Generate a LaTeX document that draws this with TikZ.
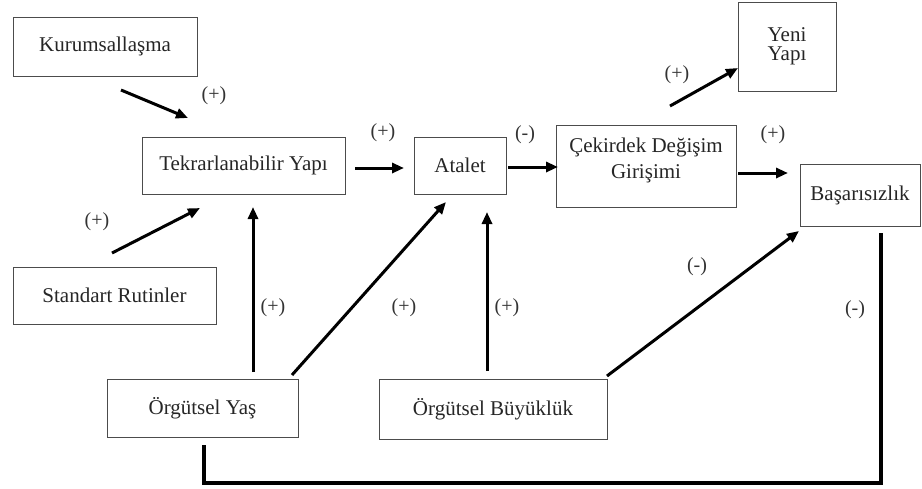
\documentclass[tikz,border=0pt]{standalone}
\usepackage{fontspec}
\setmainfont{Liberation Serif}
\usetikzlibrary{arrows.meta}
\begin{document}
\begin{tikzpicture}[x=1pt,y=-1pt,
  box/.style={draw=black!70,line width=1pt,fill=white,inner sep=0pt,align=center,
    font=\fontsize{21}{26}\selectfont,text=black!85},
  conn/.style={line width=3pt,-{Triangle[length=12pt,width=10pt]}},
  loopline/.style={line width=3.5pt},
  sign/.style={font=\fontsize{20}{22}\selectfont,text=black!80,inner sep=0pt}]
\useasboundingbox (0,0) rectangle (922,488);
% boxes
\node[box,minimum width=184pt,minimum height=59pt] (kur) at (105,46.5) {Kurumsallaşma};
\node[box,minimum width=203pt,minimum height=57pt] (tek) at (243.5,165.5) {Tekrarlanabilir Yapı};
\node[box,minimum width=92pt,minimum height=57pt] (ata) at (460,165.5) {Atalet};
\node[box,minimum width=180pt,minimum height=82pt,text depth=16pt] (cek) at (646,166) {Çekirdek Değişim\\Girişimi};
\node[box,minimum width=98pt,minimum height=89pt,font=\fontsize{21}{19}\selectfont] (yeni) at (787,46.5) {Yeni\\Yapı};
\node[box,minimum width=120pt,minimum height=62pt] (bas) at (860,195) {Başarısızlık};
\node[box,minimum width=203pt,minimum height=57pt] (std) at (114.5,295.5) {Standart Rutinler};
\node[box,minimum width=191pt,minimum height=58pt] (yas) at (202.5,408) {Örgütsel Yaş};
\node[box,minimum width=228pt,minimum height=60pt] (buy) at (493,409) {Örgütsel Büyüklük};
% connector end points
\coordinate (k1) at (121,90);  \coordinate (k2) at (188,118);
\coordinate (s1) at (112,253); \coordinate (s2) at (200,208);
\coordinate (t1) at (355,168); \coordinate (t2) at (404,168);
\coordinate (y1) at (253,372); \coordinate (y2) at (253,207);
\coordinate (y3) at (292,375); \coordinate (y4) at (446,202);
\coordinate (b1) at (487,371); \coordinate (b2) at (487,212);
\coordinate (b3) at (607,376); \coordinate (b4) at (799,231);
\coordinate (a1) at (508,167); \coordinate (a2) at (558,167);
\coordinate (c1) at (738,173); \coordinate (c2) at (788,173);
\coordinate (c3) at (670,106); \coordinate (c4) at (738,68);
\coordinate (l1) at (204,445); \coordinate (l2) at (204,483);
\coordinate (l3) at (881,483); \coordinate (l4) at (881,233);
% connectors
\draw[conn] (k1) -- (k2);
\draw[conn] (s1) -- (s2);
\draw[conn] (t1) -- (t2);
\draw[conn] (y1) -- (y2);
\draw[conn] (y3) -- (y4);
\draw[conn] (b1) -- (b2);
\draw[conn] (b3) -- (b4);
\draw[conn] (a1) -- (a2);
\draw[conn] (c1) -- (c2);
\draw[conn] (c3) -- (c4);
\draw[loopline] (l1) -- (l2) -- (l3) -- (l4);
% signs
\node[sign] (p1) at (214,96) {(+)};
\node[sign] (p2) at (97,222) {(+)};
\node[sign] (p3) at (383,133) {(+)};
\node[sign] (p4) at (273,308) {(+)};
\node[sign] (p5) at (404,308) {(+)};
\node[sign] (p6) at (507,308) {(+)};
\node[sign] (m1) at (697,267) {(-)};
\node[sign] (m2) at (525,135) {(-)};
\node[sign] (p7) at (773,135) {(+)};
\node[sign] (p8) at (677,75) {(+)};
\node[sign] (m3) at (855,310) {(-)};
\end{tikzpicture}
\end{document}
